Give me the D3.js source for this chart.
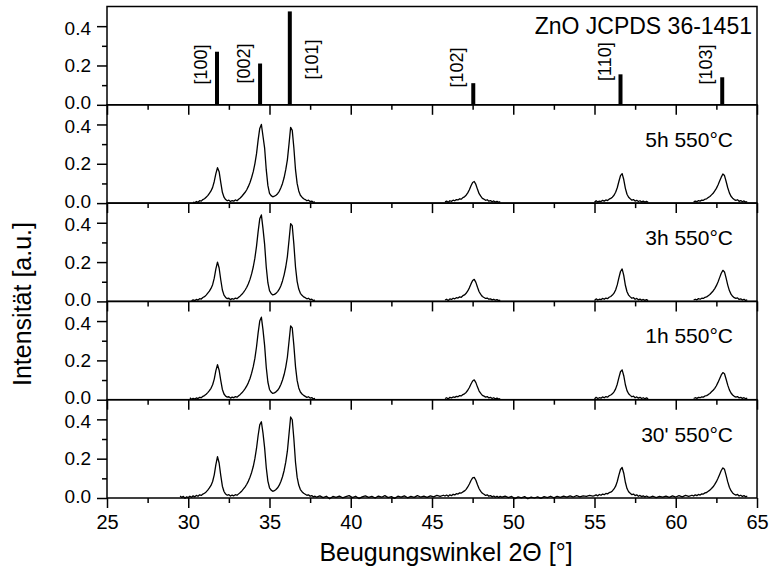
<!DOCTYPE html>
<html><head><meta charset="utf-8">
<script src="https://cdn.jsdelivr.net/npm/d3@7"></script>
<style>body{margin:0;background:#fff} text{font-family:"Liberation Sans",Arial,sans-serif;fill:#000}</style>
</head><body><svg id="c" width="770" height="569"></svg>
<script>
// ---------- data ----------
const xTicksMajor = [25,30,35,40,45,50,55,60,65];
const xTicksMinor = [27.5,32.5,37.5,42.5,47.5,52.5,57.5,62.5];
const yTicksMajor = [0,0.2,0.4];
const yTicksMinor = [0.1,0.3];

const refTitle = "ZnO JCPDS 36-1451";
const refHkl = ["[100]","[002]","[101]","[102]","[110]","[103]"];
const refAngle = [31.77,34.42,36.25,47.54,56.60,62.86];
const refIntensity = [0.27,0.21,0.475,0.11,0.155,0.14];

const sampleLabels = ["5h 550°C","3h 550°C","1h 550°C","30' 550°C"];

// scans: [start angle, step, intensities]
const scan5h = [
 [30.3,0.1,[0.005,0.002,0.008,0.004,0.012,0.010,0.018,0.022,0.030,0.038,0.050,0.062,0.080,0.110,0.150,0.180,0.160,0.105,0.055,0.030,0.018,0.012,0.015,0.008,0.013,0.010,0.016,0.012,0.020,0.026,0.035,0.045,0.055,0.068,0.085,0.105,0.130,0.160,0.200,0.250,0.320,0.380,0.400,0.340,0.280,0.170,0.090,0.050,0.038,0.032,0.035,0.040,0.048,0.060,0.078,0.100,0.130,0.170,0.220,0.300,0.385,0.370,0.280,0.170,0.100,0.062,0.040,0.030,0.022,0.018,0.012,0.015,0.008,0.010,0.004,0.006]],
 [45.8,0.1,[0.006,0.010,0.004,0.012,0.009,0.015,0.012,0.018,0.016,0.022,0.020,0.028,0.032,0.040,0.052,0.068,0.088,0.105,0.110,0.095,0.070,0.048,0.035,0.024,0.020,0.014,0.017,0.010,0.013,0.007,0.011,0.005,0.009,0.004,0.007]],
 [55.0,0.1,[0.004,0.012,0.006,0.010,0.008,0.014,0.010,0.016,0.013,0.020,0.024,0.030,0.040,0.055,0.078,0.110,0.140,0.150,0.120,0.075,0.045,0.030,0.022,0.015,0.018,0.010,0.014,0.008,0.012,0.006,0.010,0.005,0.009,0.004]],
 [61.1,0.1,[0.006,0.010,0.007,0.013,0.010,0.015,0.014,0.020,0.022,0.028,0.034,0.042,0.050,0.062,0.075,0.092,0.112,0.132,0.148,0.140,0.110,0.078,0.052,0.035,0.025,0.018,0.014,0.017,0.009,0.013,0.007,0.011,0.005,0.008]]
];
const scan3h = [
 [30.2,0.1,[0.003,0.008,0.004,0.010,0.007,0.014,0.012,0.020,0.024,0.032,0.042,0.052,0.066,0.085,0.118,0.165,0.200,0.170,0.110,0.058,0.032,0.020,0.014,0.016,0.009,0.014,0.011,0.017,0.014,0.021,0.028,0.036,0.046,0.058,0.072,0.090,0.112,0.140,0.175,0.220,0.280,0.355,0.420,0.440,0.370,0.290,0.175,0.095,0.055,0.040,0.033,0.036,0.041,0.050,0.062,0.080,0.104,0.135,0.175,0.228,0.310,0.395,0.385,0.290,0.175,0.102,0.063,0.041,0.031,0.023,0.019,0.013,0.016,0.009,0.011,0.005,0.007]],
 [45.8,0.1,[0.007,0.011,0.005,0.013,0.010,0.016,0.013,0.019,0.017,0.023,0.021,0.029,0.033,0.041,0.053,0.069,0.089,0.106,0.112,0.097,0.072,0.049,0.036,0.025,0.020,0.015,0.017,0.011,0.013,0.008,0.011,0.006,0.009,0.004,0.007]],
 [55.0,0.1,[0.005,0.013,0.007,0.011,0.009,0.015,0.011,0.017,0.014,0.021,0.025,0.032,0.042,0.058,0.084,0.120,0.152,0.165,0.132,0.082,0.049,0.032,0.023,0.016,0.019,0.011,0.015,0.008,0.012,0.006,0.010,0.005,0.009,0.004]],
 [61.1,0.1,[0.007,0.011,0.008,0.014,0.011,0.016,0.015,0.021,0.023,0.029,0.035,0.044,0.053,0.065,0.080,0.099,0.121,0.143,0.158,0.150,0.118,0.083,0.055,0.037,0.026,0.019,0.015,0.018,0.010,0.013,0.007,0.011,0.005,0.008]]
];
const scan1h = [
 [30.1,0.1,[0.010,0.002,0.007,0.003,0.009,0.006,0.012,0.010,0.017,0.021,0.028,0.036,0.046,0.058,0.076,0.105,0.148,0.178,0.150,0.098,0.052,0.029,0.018,0.013,0.015,0.008,0.013,0.010,0.016,0.013,0.020,0.027,0.035,0.045,0.056,0.070,0.087,0.108,0.135,0.168,0.210,0.268,0.340,0.400,0.420,0.355,0.275,0.165,0.090,0.052,0.039,0.032,0.035,0.040,0.048,0.060,0.077,0.100,0.128,0.166,0.216,0.295,0.375,0.365,0.275,0.168,0.098,0.060,0.039,0.029,0.022,0.017,0.012,0.015,0.008,0.011,0.004,0.007]],
 [45.8,0.1,[0.006,0.010,0.004,0.012,0.009,0.014,0.012,0.017,0.015,0.021,0.019,0.026,0.030,0.037,0.048,0.062,0.080,0.095,0.101,0.087,0.064,0.044,0.032,0.022,0.018,0.013,0.016,0.009,0.012,0.006,0.010,0.004,0.008,0.003,0.006]],
 [55.0,0.1,[0.004,0.012,0.006,0.010,0.008,0.014,0.010,0.016,0.013,0.020,0.024,0.030,0.040,0.055,0.079,0.112,0.142,0.152,0.122,0.076,0.046,0.030,0.022,0.015,0.018,0.010,0.014,0.008,0.012,0.006,0.010,0.005,0.009,0.004]],
 [61.1,0.1,[0.006,0.010,0.007,0.012,0.010,0.014,0.013,0.019,0.021,0.026,0.032,0.040,0.048,0.058,0.071,0.088,0.107,0.126,0.138,0.132,0.104,0.074,0.050,0.034,0.024,0.017,0.013,0.016,0.009,0.012,0.007,0.010,0.005,0.008]]
];
const scan30m = [
 [29.5,0.1,[0.010,0.003,0.008,-0.002,0.006,0.002,0.009,0.004,0.011,0.006,0.013,0.009,0.016,0.013,0.020,0.024,0.031,0.040,0.051,0.064,0.084,0.118,0.170,0.210,0.178,0.115,0.060,0.033,0.020,0.014,0.017,0.010,0.015,0.011,0.017,0.014,0.021,0.028,0.036,0.046,0.057,0.070,0.086,0.106,0.130,0.160,0.200,0.252,0.318,0.372,0.388,0.330,0.255,0.155,0.086,0.052,0.040,0.034,0.037,0.043,0.052,0.065,0.084,0.108,0.140,0.182,0.238,0.325,0.412,0.398,0.300,0.182,0.106,0.066,0.043,0.032,0.024,0.019,0.014,0.016,0.009,0.012,0.006,0.009]],
 [37.9,0.2,[0.004,0.011,0.002,0.009,-0.004,0.008,0.003,0.010,0.001,0.007,0.012,0.002,0.009,-0.003,0.006,0.011,0.003,0.008,0.000,0.010,0.004,0.012,0.002,0.007,-0.002,0.009,0.004,0.011,0.001,0.008,0.003,0.012,0.005,0.010,0.003,0.011,0.006,0.013,0.008,0.014]],
 [45.8,0.1,[0.010,0.015,0.009,0.016,0.012,0.019,0.016,0.022,0.020,0.026,0.025,0.031,0.036,0.044,0.056,0.071,0.089,0.102,0.105,0.090,0.067,0.047,0.034,0.024,0.019,0.013,0.016,0.009,0.012,0.006,0.010,0.004,0.009,0.003,0.008]],
 [49.3,0.2,[0.005,0.010,0.002,0.008,-0.003,0.006,0.001,0.007,-0.004,0.005,0.000,0.006,-0.002,0.007,0.002,0.009,0.001,0.008,0.003,0.010,0.004,0.011,0.005,0.012,0.006,0.011,0.008,0.013,0.010]],
 [55.0,0.1,[0.012,0.016,0.011,0.018,0.014,0.020,0.017,0.023,0.021,0.027,0.030,0.036,0.046,0.060,0.084,0.116,0.145,0.155,0.126,0.080,0.048,0.032,0.024,0.017,0.020,0.012,0.016,0.009,0.013,0.007,0.011,0.005,0.010,0.006]],
 [58.4,0.2,[0.003,0.009,0.002,0.008,0.004,0.010,0.003,0.011,0.005,0.012,0.006,0.013,0.008,0.014]],
 [61.1,0.1,[0.010,0.016,0.012,0.018,0.015,0.021,0.020,0.026,0.028,0.034,0.040,0.048,0.057,0.069,0.083,0.100,0.120,0.140,0.153,0.146,0.115,0.082,0.055,0.037,0.026,0.019,0.015,0.018,0.010,0.014,0.008,0.012,0.006,0.009]]
];
const samples = [scan5h, scan3h, scan1h, scan30m];
const continuous = [false,false,false,true];

// ---------- layout ----------
const L = 107, R = 757, T = 6.5, B = 498;
const nP = 5, pH = (B - T) / nP;
const FONT = "Liberation Sans, Arial, sans-serif";
const svg = d3.select("#c");
const x = d3.scaleLinear().domain([25,65]).range([L,R]);
const fmt = d3.format(".1f");

function panelY(p){
  const y0 = T + p*pH;
  return d3.scaleLinear().domain([0,0.5]).range([y0+pH, y0]);
}

for (let p=0;p<nP;p++){
  const y = panelY(p);
  const g = svg.append("g");
  const isLast = p === nP-1;
  const ax = g.append("g").attr("transform",`translate(0,${y(0)})`)
    .call(d3.axisBottom(x).tickValues(xTicksMajor).tickSize(10).tickPadding(7)
      .tickFormat(isLast ? d3.format("d") : ""));
  ax.select(".domain").remove();
  ax.selectAll("text").attr("font-size",20).attr("font-family",FONT).attr("fill","#000");
  ax.selectAll("line").attr("stroke","#000").attr("stroke-width",1.5);
  const axm = g.append("g").attr("transform",`translate(0,${y(0)})`)
    .call(d3.axisBottom(x).tickValues(xTicksMinor).tickSize(5).tickFormat(""));
  axm.select(".domain").remove();
  axm.selectAll("line").attr("stroke","#000").attr("stroke-width",1.5);
  const ay = g.append("g").attr("transform",`translate(${L},0)`)
    .call(d3.axisLeft(y).tickValues(yTicksMajor).tickSize(10).tickPadding(6).tickFormat(fmt));
  ay.select(".domain").remove();
  ay.selectAll("text").attr("font-size",19).attr("font-family",FONT).attr("fill","#000")
    .attr("dy",d => d===0 ? "0.22em" : (d===0.4 ? "0.42em" : "0.32em"));
  ay.selectAll("line").attr("stroke","#000").attr("stroke-width",1.5);
  const aym = g.append("g").attr("transform",`translate(${L},0)`)
    .call(d3.axisLeft(y).tickValues(yTicksMinor).tickSize(5).tickFormat(""));
  aym.select(".domain").remove();
  aym.selectAll("line").attr("stroke","#000").attr("stroke-width",1.5);
  g.append("rect").attr("x",L).attr("y",y(0.5)).attr("width",R-L).attr("height",y(0)-y(0.5))
    .attr("fill","none").attr("stroke","#000").attr("stroke-width",1.5);
}

// reference panel
{
  const y = panelY(0);
  const g = svg.append("g");
  g.selectAll("line.stick").data(refAngle).join("line")
    .attr("x1",d=>x(d)).attr("x2",d=>x(d))
    .attr("y1",y(0)).attr("y2",(d,i)=>y(refIntensity[i]))
    .attr("stroke","#000").attr("stroke-width",4);
  const labelLevel = [0.205,0.21,0.23,0.19,0.22,0.205];
  const labelOff = [-10,-10,28,-10,-10,-10];
  g.selectAll("text.hkl").data(refHkl).join("text")
    .attr("transform",(d,i)=>`translate(${x(refAngle[i])+labelOff[i]},${y(labelLevel[i])}) rotate(-90)`)
    .attr("text-anchor","middle").attr("font-size",18).text(d=>d);
  g.append("text").attr("x",752).attr("y",y(0.5)+27).attr("text-anchor","end")
    .attr("font-size",23).text(refTitle);
}

// sample panels
const line = d3.line().x(d=>x(d[0])).y(d=>d[1]);
samples.forEach((scan,k)=>{
  const y = panelY(k+1);
  const segs = scan.map(([s,st,vals])=>vals.map((v,i)=>[s+i*st, y(v)]));
  const paths = continuous[k] ? [segs.flat()] : segs;
  svg.append("g").selectAll("path").data(paths).join("path")
    .attr("d",line).attr("fill","none").attr("stroke","#000").attr("stroke-width",1.3)
    .attr("stroke-linejoin","round");
  svg.append("text").attr("x",733).attr("y",y(0.5)+42).attr("text-anchor","end")
    .attr("font-size",21).text(sampleLabels[k]);
});

// axis titles
svg.append("text").attr("transform","translate(31,304) rotate(-90)")
  .attr("text-anchor","middle").attr("font-size",25).text("Intensität [a.u.]");
svg.append("text").attr("x",446).attr("y",561).attr("text-anchor","middle")
  .attr("font-size",25).text("Beugungswinkel 2Θ [°]");
</script></body></html>
